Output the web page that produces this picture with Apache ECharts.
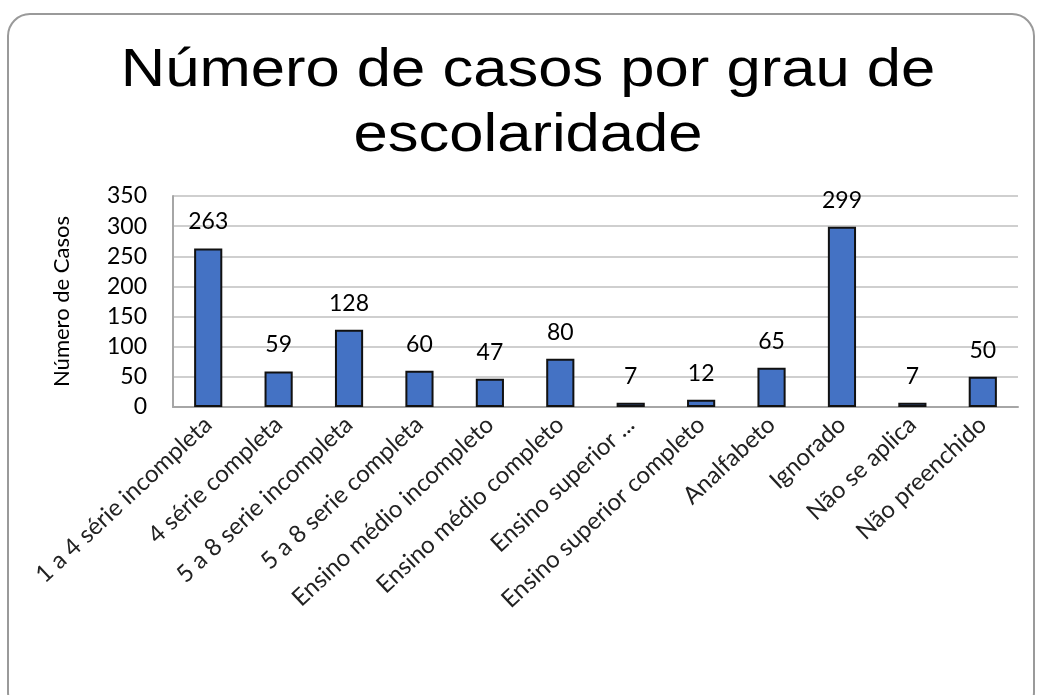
<!DOCTYPE html>
<html><head><meta charset="utf-8">
<script src="https://cdn.jsdelivr.net/npm/echarts@6/dist/echarts.min.js"></script>
<style>html,body{margin:0;padding:0;background:#fff}#c{width:1040px;height:695px}</style>
</head><body><div id="c"></div>
<script>
const categories = ["1 a 4 série incompleta","4 série completa","5 a 8 serie incompleta","5 a 8 serie completa","Ensino médio incompleto","Ensino médio completo","Ensino superior ...","Ensino superior completo","Analfabeto","Ignorado","Não se aplica","Não preenchido"];
const values = [263,59,128,60,47,80,7,12,65,299,7,50];
const yTicks = [0,50,100,150,200,250,300,350];
const titleText = "Número de casos por grau de\nescolaridade";
const yName = "Número de Casos";

const chart = echarts.init(document.getElementById('c'));
const F = 'Lato, "Open Sans", sans-serif';
chart.setOption({
  animation:false,
  backgroundColor:'#fff',
  graphic:[
    {type:'rect',shape:{x:8,y:14,width:1026,height:700,r:22},style:{fill:'none',stroke:'#9a9a9a',lineWidth:2},z:-1},
    {type:'text',x:528,y:39,scaleX:1.14,style:{text:titleText,fill:'#000',font:'normal 54px "Liberation Sans", Arial, sans-serif',textAlign:'center',textVerticalAlign:'top',lineHeight:65}}
  ],
  grid:{left:173,right:22,top:196,bottom:288,containLabel:false},
  xAxis:{type:'category',data:categories,
    axisLine:{lineStyle:{color:'#a6a6a6',width:2}},axisTick:{show:false},
    axisLabel:{rotate:43,interval:0,fontFamily:F,fontSize:24,color:'#222',margin:14}},
  yAxis:{type:'value',min:yTicks[0],max:yTicks[yTicks.length-1],interval:50,
    name:yName,nameLocation:'middle',nameGap:100,nameRotate:90,
    nameTextStyle:{fontFamily:F,fontSize:22,color:'#000'},
    axisLine:{show:true,lineStyle:{color:'#a6a6a6',width:2}},
    axisLabel:{fontFamily:F,fontSize:23,color:'#000',margin:26},
    splitLine:{lineStyle:{color:'#cfcfcf',width:2}}},
  series:[{type:'bar',data:values,barWidth:'40%',
    itemStyle:{color:'#4472C4',borderColor:'#111',borderWidth:2},
    label:{show:true,position:'top',distance:15,fontFamily:F,fontSize:23,color:'#000'}}]
});
</script></body></html>
